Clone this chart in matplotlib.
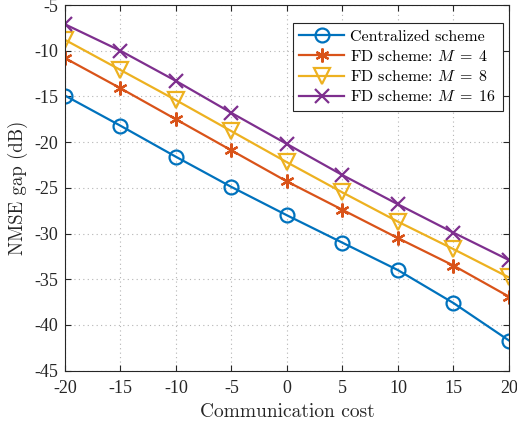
import numpy as np
import matplotlib.pyplot as plt

plt.rcParams['font.family'] = 'cmr10'
plt.rcParams['mathtext.fontset'] = 'cm'
plt.rcParams['axes.unicode_minus'] = False

# communication cost (x axis)
cost = [-20, -15, -10, -5, 0, 5, 10, 15, 20]

# NMSE gap (dB)
central = [-14.9, -18.2, -21.6, -24.9, -28.0, -31.0, -34.0, -37.6, -41.7]
fd_m4 = [-10.8, -14.1, -17.5, -20.9, -24.3, -27.4, -30.5, -33.5, -36.9]
fd_m8 = [-8.8, -12.1, -15.4, -18.8, -22.2, -25.5, -28.7, -31.7, -34.8]
fd_m16 = [-7.1, -10.0, -13.3, -16.8, -20.2, -23.6, -26.8, -29.9, -32.9]

xticks = [-20, -15, -10, -5, 0, 5, 10, 15, 20]
yticks = [-45, -40, -35, -30, -25, -20, -15, -10, -5]

fig = plt.figure(figsize=(5.17, 4.25), dpi=100)
ax = fig.add_axes([0.1257, 0.1278, 0.8588, 0.8602])

lw = 1.6
ms = 10
ax.plot(cost, central, '-o', color='#0072BD', lw=lw, ms=ms, mfc='none', mew=1.6,
        label='Centralized scheme')
ax.plot(cost, fd_m4, '-', marker=(6, 2, 0), color='#D95319', lw=lw, ms=ms, mew=1.6,
        label=r'FD scheme: $M\;=\;4$')
ax.plot(cost, fd_m8, '-v', color='#EDB120', lw=lw, ms=ms + 2, mfc='none', mew=1.6,
        label=r'FD scheme: $M\;=\;8$')
ax.plot(cost, fd_m16, '-x', color='#7E2F8E', lw=lw, ms=ms, mfc='none', mew=1.6,
        label=r'FD scheme: $M\;=\;16$')

ax.set_xlim(-20, 20)
ax.set_ylim(-45, -5)
ax.set_xticks(xticks)
ax.set_xticklabels([str(v) for v in xticks], family='Liberation Serif', fontsize=13)
ax.set_yticks(yticks)
ax.set_yticklabels([str(v) for v in yticks], family='Liberation Serif', fontsize=13)
ax.tick_params(axis='x', pad=7)
ax.tick_params(axis='y', pad=5)
ax.tick_params(direction='in', top=True, right=True, length=4,
               color='#262626', labelcolor='#262626')
for s in ax.spines.values():
    s.set_color('#262626')
    s.set_linewidth(0.8)
ax.grid(True, linestyle=(0, (1, 3)), color='#b4b4b4', linewidth=0.8)

ax.set_xlabel('Communication cost', fontsize=14, color='#262626', labelpad=4)
ax.set_ylabel('NMSE gap (dB)', fontsize=13.5, color='#262626', labelpad=4)

leg = ax.legend(loc='upper right', fontsize=11.5, fancybox=False, framealpha=1,
                edgecolor='#262626', handlelength=2.8, borderpad=0.4,
                labelspacing=0.33, handletextpad=0.4, borderaxespad=0,
                bbox_to_anchor=(0.986, 0.951))
leg.get_frame().set_linewidth(0.8)

fig.savefig('out.png', dpi=100)
